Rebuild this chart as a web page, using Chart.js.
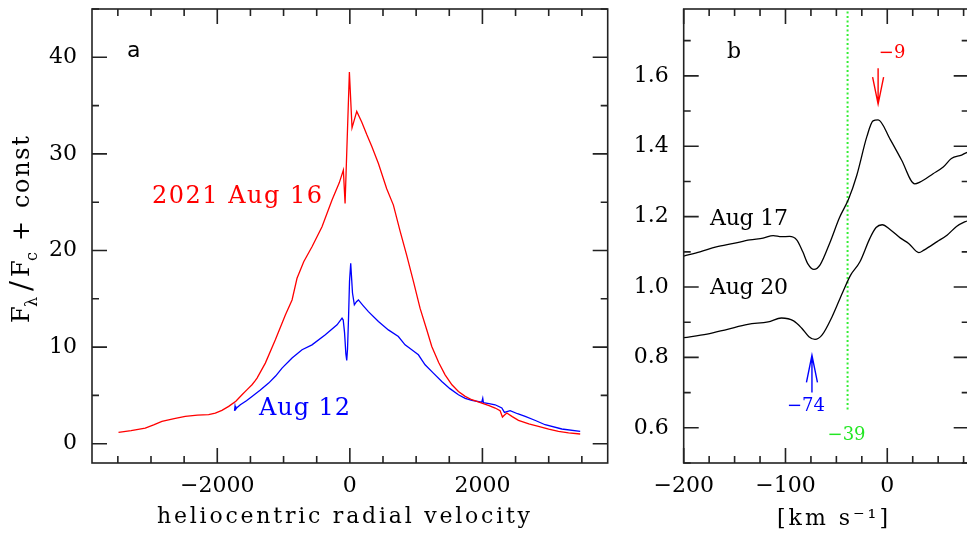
<!DOCTYPE html>
<html>
<head>
<meta charset="utf-8">
<script src="https://cdn.jsdelivr.net/npm/chart.js@4.4.1/dist/chart.umd.min.js"></script>
<style>
  html, body { margin: 0; padding: 0; background: #fff; overflow: hidden; width: 967px; height: 534px; }
  #wrapA { position: absolute; left: 0; top: 0; width: 620px; height: 534px; }
  #wrapB { position: absolute; left: 620px; top: 0; width: 360px; height: 534px; }
</style>
</head>
<body>
<div id="wrapA"><canvas id="chartA" width="620" height="534"></canvas></div>
<div id="wrapB"><canvas id="chartB" width="360" height="534"></canvas></div>
<script>
// panel a: broad profile, heliocentric velocity vs F/Fc
const velAug16 = [-3490, -3300, -3087, -2960, -2835, -2650, -2483, -2300, -2130, -2030, -1930, -1828, -1720, -1627, -1550, -1476, -1430, -1400, -1275, -1124, -973, -872, -797, -696, -571, -420, -269, -160, -98, -72, -7, 33, 104, 179, 255, 330, 431, 556, 657, 758, 858, 959, 1060, 1160, 1236, 1340, 1437, 1540, 1638, 1740, 1840, 1991, 2100, 2192, 2267, 2302, 2330, 2368, 2450, 2544, 2700, 2845, 3000, 3147, 3300, 3475];
const fluxAug16 = [1.17, 1.35, 1.62, 1.95, 2.31, 2.6, 2.82, 2.95, 3.0, 3.17, 3.45, 3.86, 4.4, 5.06, 5.6, 6.1, 6.5, 6.79, 8.34, 10.75, 13.33, 14.88, 17.12, 18.84, 20.39, 22.46, 25.22, 27.0, 28.32, 24.87, 38.48, 32.7, 34.4, 33.3, 32.0, 30.8, 29.0, 26.4, 24.7, 22.0, 19.5, 16.8, 14.0, 11.8, 10.06, 8.4, 7.13, 6.1, 5.41, 4.9, 4.55, 4.2, 3.95, 3.69, 3.41, 2.76, 2.95, 3.17, 2.8, 2.41, 2.05, 1.79, 1.5, 1.27, 1.12, 1.0];

const velAug12 = [-1740, -1732, -1722, -1700, -1652, -1560, -1476, -1350, -1225, -1120, -1023, -872, -721, -571, -370, -193, -118, -100, -80, -60, -47, -35, -20, -5, 13, 40, 68, 100, 129, 200, 280, 431, 581, 732, 833, 934, 1034, 1135, 1260, 1387, 1510, 1638, 1740, 1840, 1990, 2005, 2015, 2100, 2192, 2293, 2332, 2418, 2530, 2645, 2800, 2946, 3198, 3475];
const fluxAug12 = [3.4, 3.9, 3.55, 3.75, 4.03, 4.45, 4.89, 5.55, 6.27, 7.0, 7.82, 8.86, 9.72, 10.23, 11.27, 12.3, 12.99, 12.8, 11.5, 9.3, 8.61, 9.8, 13.0, 16.8, 18.67, 15.6, 14.37, 14.7, 14.88, 14.3, 13.67, 12.64, 11.78, 11.09, 10.23, 9.72, 9.2, 8.17, 7.3, 6.44, 5.7, 5.06, 4.7, 4.48, 4.3, 4.7, 4.25, 4.15, 4.03, 3.69, 3.24, 3.41, 3.1, 2.82, 2.4, 1.96, 1.52, 1.27];

// panel b: narrow component, km/s
const velAug17 = [-200, -184, -168, -151, -135, -122, -112, -104, -96, -89, -83, -78, -72, -66, -56, -47, -38, -30, -20, -14, -9, 3, 14, 27, 32, 45, 55, 63, 73, 78, 85];
const fluxAug17 = [1.088, 1.100, 1.114, 1.124, 1.134, 1.139, 1.146, 1.143, 1.144, 1.134, 1.100, 1.066, 1.050, 1.063, 1.129, 1.197, 1.250, 1.317, 1.428, 1.472, 1.475, 1.419, 1.361, 1.293, 1.298, 1.322, 1.341, 1.365, 1.375, 1.382, 1.386];

const velAug20 = [-200, -177, -157, -137, -117, -104, -92, -84, -77, -71, -64, -54, -44, -36, -27, -17, -11, -5, 3, 13, 21, 31, 36, 49, 59, 68, 76, 83];
const fluxAug20 = [0.856, 0.866, 0.880, 0.894, 0.901, 0.912, 0.904, 0.883, 0.859, 0.851, 0.864, 0.917, 0.984, 1.034, 1.071, 1.139, 1.169, 1.177, 1.163, 1.139, 1.124, 1.098, 1.105, 1.129, 1.148, 1.172, 1.185, 1.192];

const xTicksA = [-2000, 0, 2000];
const yTicksA = [0, 10, 20, 30, 40];
const xTicksB = [-200, -100, 0];
const yTicksB = [0.6, 0.8, 1.0, 1.2, 1.4, 1.6];

// marked velocities in panel b
const markRed = -9;
const markBlue = -74;
const markGreen = -39;

const SERIF = "'DejaVu Serif', serif";
const minus = v => (v < 0 ? '\u2212' + Math.abs(v) : String(v));
const pairs = (xs, ys) => xs.map((x, i) => ({ x: x, y: ys[i] }));

// text stretched to the width it has in the picture
function spaced(ctx, str, x, y, width) {
  ctx.letterSpacing = '0px';
  if (width && str.length > 1) {
    const w = ctx.measureText(str).width;
    ctx.letterSpacing = ((width - w) / (str.length - 1)).toFixed(2) + 'px';
  }
  ctx.fillText(str, x, y);
  ctx.letterSpacing = '0px';
}

// box with inward ticks on all four sides
function frame(xMinor, xMajor, yMinor, yMajor) {
  return {
    id: 'frame',
    afterDatasetsDraw(chart) {
      const { ctx, chartArea: a, scales: { x, y } } = chart;
      ctx.save();
      ctx.strokeStyle = '#222';
      ctx.lineWidth = 1.6;
      ctx.strokeRect(a.left, a.top, a.right - a.left, a.bottom - a.top);
      ctx.beginPath();
      const xr = Math.round(xMajor / xMinor);
      for (let k = Math.ceil(x.min / xMinor); k * xMinor <= x.max + 1e-9; k++) {
        const px = x.getPixelForValue(k * xMinor);
        const len = k % xr === 0 ? 15 : 7;
        ctx.moveTo(px, a.bottom); ctx.lineTo(px, a.bottom - len);
        ctx.moveTo(px, a.top); ctx.lineTo(px, a.top + len);
      }
      const yr = Math.round(yMajor / yMinor);
      for (let k = Math.ceil(y.min / yMinor - 1e-9); k * yMinor <= y.max + 1e-9; k++) {
        const py = y.getPixelForValue(k * yMinor);
        const len = k % yr === 0 ? 15 : 7;
        ctx.moveTo(a.left, py); ctx.lineTo(a.left + len, py);
        ctx.moveTo(a.right, py); ctx.lineTo(a.right - len, py);
      }
      ctx.stroke();
      ctx.restore();
    }
  };
}

const labelsA = {
  id: 'labelsA',
  afterDraw(chart) {
    const ctx = chart.ctx;
    ctx.save();
    ctx.textBaseline = 'alphabetic';
    ctx.textAlign = 'left';
    ctx.fillStyle = '#000';
    ctx.font = "22px 'DejaVu Sans', sans-serif";
    ctx.fillText('a', 127, 57);

    ctx.font = '24px ' + SERIF;
    ctx.fillStyle = '#ff0000';
    spaced(ctx, '2021 Aug 16', 152, 203, 170);
    ctx.fillStyle = '#0000ff';
    spaced(ctx, 'Aug 12', 259, 415, 91);

    ctx.fillStyle = '#000';
    ctx.font = '22px ' + SERIF;
    spaced(ctx, 'heliocentric radial velocity', 157, 523, 373);

    // y title: F_lambda / F_c + const, rotated
    ctx.translate(29, 323);
    ctx.rotate(-Math.PI / 2);
    ctx.font = '24px ' + SERIF;
    ctx.fillText('F', 0, 0);
    ctx.fillText('F', 46, 0);
    ctx.fillText('+', 82, 0);
    spaced(ctx, 'const', 115, 0, 72);
    ctx.font = '30px ' + SERIF;
    ctx.fillText('/', 32, 2);
    ctx.font = '16px ' + SERIF;
    ctx.fillText('\u03bb', 16, 8);
    ctx.fillText('c', 62, 8);
    ctx.restore();
  }
};

const labelsB = {
  id: 'labelsB',
  afterDraw(chart) {
    const { ctx, scales: { x, y } } = chart;
    ctx.save();
    ctx.textBaseline = 'alphabetic';
    ctx.textAlign = 'left';
    ctx.fillStyle = '#000';
    ctx.font = '22px ' + SERIF;
    ctx.fillText('b', 107, 58);
    spaced(ctx, 'Aug 17', 90, 225, 78);
    spaced(ctx, 'Aug 20', 90, 294, 78);
    spaced(ctx, '[km s\u207b\u00b9]', 157, 525, 111);

    // arrows
    const arrow = (v, yTail, yTip, color) => {
      const px = x.getPixelForValue(v);
      const t = y.getPixelForValue(yTail);
      const p = y.getPixelForValue(yTip);
      const dir = Math.sign(p - t);
      ctx.strokeStyle = color;
      ctx.lineWidth = 1.4;
      ctx.beginPath();
      ctx.moveTo(px, t); ctx.lineTo(px, p);
      ctx.moveTo(px - 5.5, p - dir * 27); ctx.lineTo(px, p); ctx.lineTo(px + 5.5, p - dir * 27);
      ctx.stroke();
    };
    arrow(markRed, 1.622, 1.520, '#ff0000');
    arrow(markBlue, 0.700, 0.806, '#0000ff');

    ctx.font = '18px ' + SERIF;
    ctx.textAlign = 'center';
    ctx.fillStyle = '#ff0000';
    ctx.fillText(minus(markRed), x.getPixelForValue(markRed) + 14, 58);
    ctx.fillStyle = '#0000ff';
    ctx.fillText(minus(markBlue), x.getPixelForValue(markBlue) - 6, 411);
    ctx.fillStyle = '#22e622';
    ctx.fillText(minus(markGreen), x.getPixelForValue(markGreen) - 1, 440);
    ctx.restore();
  }
};

const tickFont = { family: SERIF, size: 22 };

function axisX(min, max, ticks, fmt) {
  return {
    type: 'linear', min: min, max: max,
    grid: { display: false, drawTicks: false },
    border: { display: false },
    afterBuildTicks: s => { s.ticks = ticks.map(v => ({ value: v })); },
    afterFit: s => { s.height = 71; s.paddingLeft = 0; s.paddingRight = 0; },
    ticks: { padding: 10, maxRotation: 0, autoSkip: false, color: '#000', font: tickFont, callback: fmt }
  };
}

function axisY(min, max, ticks, fmt, width) {
  return {
    type: 'linear', min: min, max: max,
    grid: { display: false, drawTicks: false },
    border: { display: false },
    afterBuildTicks: s => { s.ticks = ticks.map(v => ({ value: v })); },
    afterFit: s => { s.width = width; s.paddingTop = 0; s.paddingBottom = 0; },
    ticks: { padding: 15, autoSkip: false, color: '#000', font: tickFont, callback: fmt }
  };
}

new Chart(document.getElementById('chartA'), {
  type: 'line',
  data: {
    datasets: [
      { label: '2021 Aug 16', data: pairs(velAug16, fluxAug16), borderColor: '#ff0000', borderWidth: 1.3, pointRadius: 0, tension: 0 },
      { label: 'Aug 12', data: pairs(velAug12, fluxAug12), borderColor: '#0000ff', borderWidth: 1.3, pointRadius: 0, tension: 0 }
    ]
  },
  options: {
    responsive: false,
    animation: false,
    events: [],
    layout: { padding: { left: 0, top: 9, right: 12.3, bottom: 0 } },
    plugins: { legend: { display: false }, tooltip: { enabled: false } },
    scales: {
      x: axisX(-3890, 3890, xTicksA, v => minus(v)),
      y: axisY(-2, 45, yTicksA, v => String(v), 92)
    }
  },
  plugins: [frame(500, 2000, 5, 10), labelsA]
});

new Chart(document.getElementById('chartB'), {
  type: 'line',
  data: {
    datasets: [
      { label: 'Aug 17', data: pairs(velAug17, fluxAug17), borderColor: '#000', borderWidth: 1.3, pointRadius: 0, cubicInterpolationMode: 'monotone' },
      { label: 'Aug 20', data: pairs(velAug20, fluxAug20), borderColor: '#000', borderWidth: 1.3, pointRadius: 0, cubicInterpolationMode: 'monotone' },
      { label: 'mark', data: [{ x: markGreen, y: 0.652 }, { x: markGreen, y: 1.79 }], borderColor: '#33ee33', borderWidth: 2, borderDash: [2, 2.5], pointRadius: 0 }
    ]
  },
  options: {
    responsive: false,
    animation: false,
    events: [],
    layout: { padding: { left: 0, top: 9, right: 11.3, bottom: 0 } },
    plugins: { legend: { display: false }, tooltip: { enabled: false } },
    scales: {
      x: axisX(-200, 80, xTicksB, v => minus(v)),
      y: axisY(0.5, 1.79, yTicksB, v => v.toFixed(1), 63.7)
    }
  },
  plugins: [frame(25, 100, 0.1, 0.2), labelsB]
});
</script>
</body>
</html>
